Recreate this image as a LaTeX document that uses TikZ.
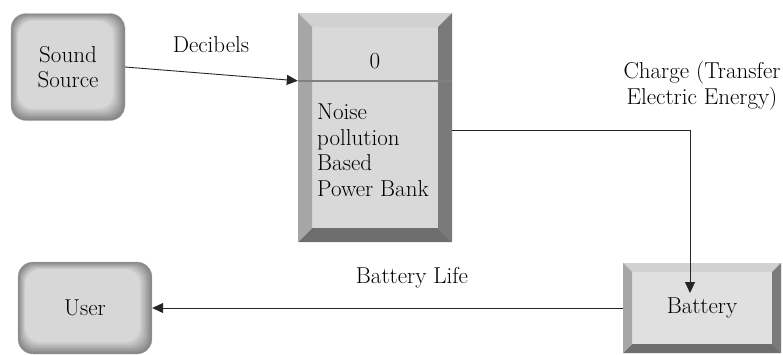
\documentclass[tikz,border=0pt]{standalone}
\usepackage{fontspec}
\usetikzlibrary{arrows.meta, positioning, calc}

\begin{document}
\begin{tikzpicture}[
    x=1pt, y=-1pt,
    font=\rmfamily\fontsize{23}{25.5}\selectfont,
    soft/.style={rounded corners=15pt, align=center, inner sep=0pt, draw=black!30,
      path picture={
        \foreach \k in {0,...,8}{
          \pgfmathsetmacro\tone{95-8*\k}
          \fill[gray!\tone, rounded corners=15pt]
            ([xshift=0.9pt*\k, yshift=-0.9pt*\k]path picture bounding box.north west) rectangle
            ([xshift=-1.5pt*\k, yshift=1.5pt*\k]path picture bounding box.south east);
        }
      }},
    bevel/.style={inner sep=0pt, path picture={
        \coordinate (p1) at (path picture bounding box.north west);
        \coordinate (p2) at (path picture bounding box.north east);
        \coordinate (p3) at (path picture bounding box.south east);
        \coordinate (p4) at (path picture bounding box.south west);
        \fill[black!18] (p1) -- (p2) -- ([xshift=-#1,yshift=-#1]p2) -- ([xshift=#1,yshift=-#1]p1) -- cycle;
        \fill[black!52] (p2) -- (p3) -- ([xshift=-#1,yshift=#1]p3) -- ([xshift=-#1,yshift=-#1]p2) -- cycle;
        \fill[black!57] (p3) -- (p4) -- ([xshift=#1,yshift=#1]p4) -- ([xshift=-#1,yshift=#1]p3) -- cycle;
        \fill[black!35] (p4) -- (p1) -- ([xshift=#1,yshift=-#1]p1) -- ([xshift=#1,yshift=#1]p4) -- cycle;
      }},
    bevel/.default=14pt,
    link/.style={-{Triangle[length=11pt,width=10pt]}, line width=0.9pt, black!85}
  ]
    \useasboundingbox (0,0) rectangle (783,354);

    \node[soft, minimum width=114pt, minimum height=107pt] (src) at (68,67) {Sound\\Source};
    \node[bevel, fill=black!15, minimum width=154pt, minimum height=229pt] (bank) at (375,127.5) {};
    \draw[black!50, line width=2.5pt] ([yshift=-68pt]bank.north west) coordinate (bankin)
      -- ([yshift=-68pt]bank.north east);
    \node (bankid) at (375,61) {0};
    \node[anchor=north west, align=left, inner sep=0pt] (banktext) at (317,104)
      {Noise\\pollution\\Based\\Power Bank};
    \node[bevel=9pt, fill=black!12, minimum width=158pt, minimum height=90pt] (batt) at (702,308) {Battery};
    \node[soft, minimum width=134pt, minimum height=92pt] (usr) at (85,308) {User};
    \coordinate (battin) at ([xshift=-12pt,yshift=15pt]batt.center);

    \draw[link] (src.east) -- (bankin);
    \draw[link] ([yshift=-2.5pt]bank.east) -| (battin);
    \draw[link] (batt.west) -- (usr.east);

    \node (dblabel) at (211,45) {Decibels};
    \node[align=center] (chlabel) at (702,86) {Charge (Transfer\\Electric Energy)};
    \node (bllabel) at (412,278) {Battery Life};
  \end{tikzpicture}
\end{document}
